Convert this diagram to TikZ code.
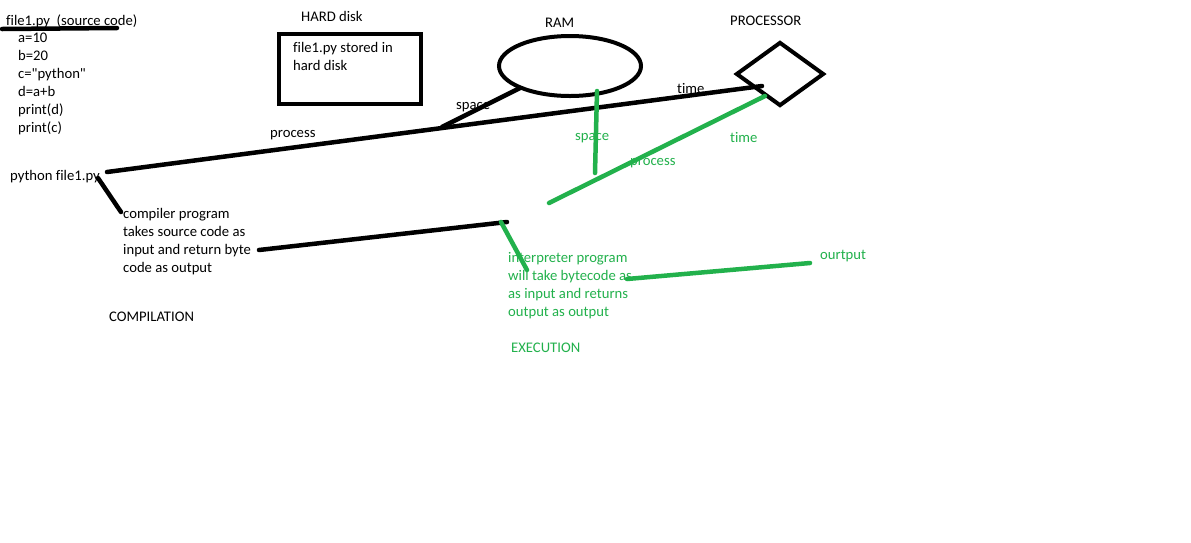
\documentclass[tikz,border=0pt]{standalone}
\usepackage{fontspec}
\setmainfont{Carlito}[Ligatures={NoCommon,TeXOff}]
\usetikzlibrary{shapes.geometric}
\definecolor{pgreen}{RGB}{34,177,76}
\begin{document}
\begin{tikzpicture}[x=1pt,y=-1pt,
  txt/.style={font=\fontsize{14.67}{18}\selectfont, inner sep=0pt, anchor=base west, align=left},
  gtxt/.style={txt, text=pgreen},
  pen/.style={line width=4.5pt, line cap=round, line join=round},
  bpen/.style={pen, draw=black},
  gpen/.style={pen, draw=pgreen}]
\useasboundingbox[fill=white] (0,0) rectangle (1191,542);

% texts (multi-line nodes are placed by the baseline of their last line)
\node[txt] (src) at (6,25) {file1.py\ \ (source code)};
\node[txt] (code) at (18,132) {a=10\\b=20\\c="python"\\d=a+b\\print(d)\\print(c)};
\node[txt] (hdl) at (301,21) {HARD disk};
\node[txt] (ramlbl) at (545,27) {RAM};
\node[txt] (proclbl) at (730,25) {PROCESSOR};
\node[txt] (run) at (10,180) {python file1.py};
\node[txt] (comp) at (123,272) {compiler program\\takes source code as\\input and return byte\\code as output};
\node[txt] (compil) at (109,321) {COMPILATION};
\node[gtxt] (interp) at (508,316) {interpreter program\\will take bytecode as\\as input and returns\\output as output};
\node[gtxt] (outp) at (820,259) {ourtput};
\node[gtxt] (exec) at (511,352) {EXECUTION};

% shapes
\draw[line width=4pt] (279,34) rectangle (421,104);
\node[txt] (hdtxt) at (293,70) {file1.py stored in\\hard disk};
\node[draw, line width=4pt, ellipse, minimum width=142pt, minimum height=60pt, inner sep=0pt] (ram) at (570,66) {};
\node[draw, line width=4pt, diamond, minimum width=88pt, minimum height=64pt, inner sep=0pt, shape aspect=1.375] (cpu) at (780,74) {};

% coordinates of freehand strokes
\coordinate (ul1) at (2,29);
\coordinate (ul2) at (117,28);
\coordinate (p1) at (107,172);
\coordinate (p2) at (762,86);
\coordinate (s1) at (442,127);
\coordinate (s2) at (520,88);
\coordinate (c1) at (98,178);
\coordinate (c2) at (121,212);
\coordinate (b1) at (259,250);
\coordinate (b2) at (507,222);
\coordinate (g1) at (597,91);
\coordinate (g2) at (595,173);
\coordinate (h1) at (549,203);
\coordinate (h2) at (765,96);
\coordinate (i1) at (501,222);
\coordinate (i2) at (527,270);
\coordinate (o1) at (627,279);
\coordinate (o2) at (810,263);

% black strokes
\draw[bpen] (ul1) -- (ul2);
\draw[bpen] (p1) -- (p2);
\draw[bpen] (s1) -- (s2);
\draw[bpen] (c1) -- (c2);
\draw[bpen] (b1) -- (b2);

% black labels
\node[txt] (bspace) at (456,109) {space};
\node[txt] (btime) at (677,93) {time};
\node[txt] (bproc) at (270,137) {process};

% green strokes
\draw[gpen] (g1) -- (g2);
\draw[gpen] (h1) -- (h2);
\draw[gpen] (i1) -- (i2);
\draw[gpen] (o1) -- (o2);

% green labels
\node[gtxt] (gspace) at (575,140) {space};
\node[gtxt] (gproc) at (630,165) {process};
\node[gtxt] (gtime) at (730,142) {time};
\end{tikzpicture}
\end{document}
